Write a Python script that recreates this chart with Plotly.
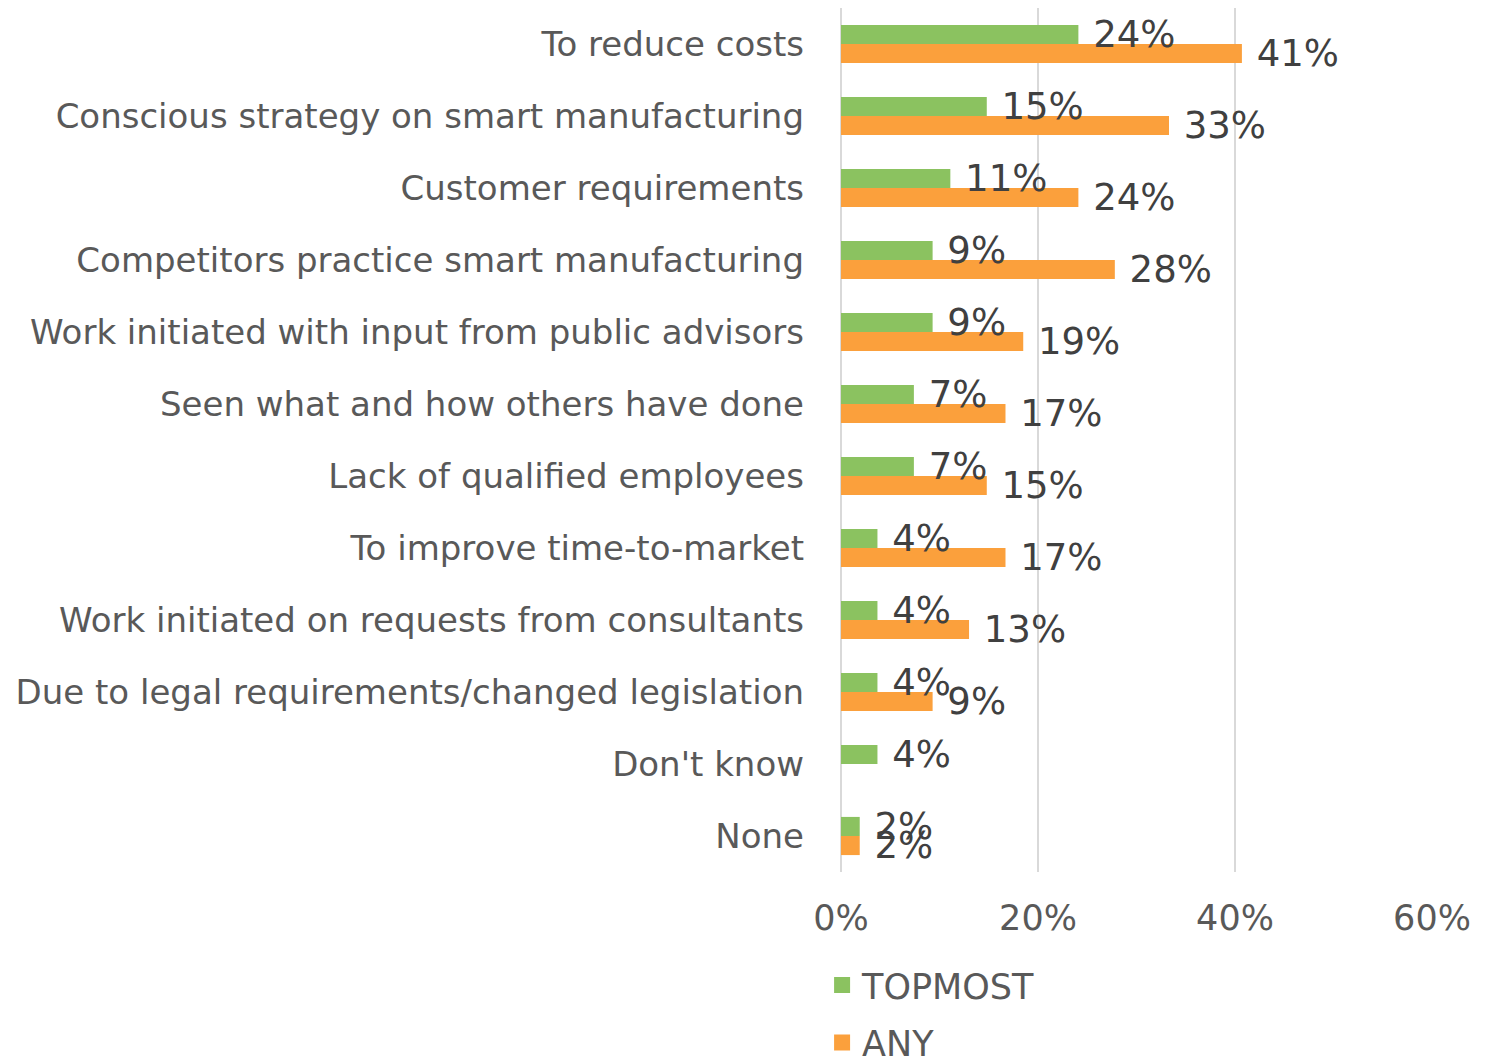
import plotly.graph_objects as go

categories = [
    "To reduce costs",
    "Conscious strategy on smart manufacturing",
    "Customer requirements",
    "Competitors practice smart manufacturing",
    "Work initiated with input from public advisors",
    "Seen what and how others have done",
    "Lack of qualified employees",
    "To improve time-to-market",
    "Work initiated on requests from consultants",
    "Due to legal requirements/changed legislation",
    "Don't know",
    "None",
]
topmost = [24.1, 14.8, 11.1, 9.3, 9.3, 7.4, 7.4, 3.7, 3.7, 3.7, 3.7, 1.9]
any_ = [40.7, 33.3, 24.1, 27.8, 18.5, 16.7, 14.8, 16.7, 13.0, 9.3, None, 1.9]
x_ticks = [0, 20, 40, 60]

FONT = "DejaVu Sans"
TXT = "#404040"
GREY = "#595959"
series = [("TOPMOST", topmost, "#8BC260"), ("ANY", any_, "#FBA03C")]

fig = go.Figure()
# bars first, labels after so no bar hides a label
for name, vals, col in series:
    fig.add_trace(go.Bar(
        y=categories, x=vals, name=name, orientation="h", offsetgroup=name,
        marker=dict(color=col, line=dict(width=0)), showlegend=False,
    ))
for name, vals, col in series:
    fig.add_trace(go.Bar(
        y=categories, x=vals, orientation="h", offsetgroup=name,
        marker=dict(color="rgba(0,0,0,0)", line=dict(width=0)), showlegend=False,
        texttemplate=" %{x:.0f}%", textposition="outside",
        constraintext="none", cliponaxis=False, hoverinfo="skip",
        textfont=dict(size=37, color=TXT, family=FONT),
    ))
for name, vals, col in series:
    fig.add_trace(go.Scatter(
        x=[None], y=[None], name=name, mode="markers", legendgroup=name,
        marker=dict(symbol="square", size=16, color=col),
    ))

# page body has an 8px margin, so the figure is 8px smaller and shifted
fig.update_layout(
    width=1493, height=1052,
    margin=dict(l=833, r=69, t=0, b=188),
    barmode="group", bargap=0.47, bargroupgap=0,
    plot_bgcolor="white", paper_bgcolor="white",
    font=dict(family=FONT, color=TXT),
    legend=dict(orientation="v", x=-0.032, xanchor="left",
                yref="container", y=0.099, yanchor="top",
                font=dict(size=35, color=GREY), traceorder="grouped",
                itemsizing="trace", tracegroupgap=9),
    xaxis=dict(range=[0, 60], tickvals=x_ticks, ticktext=[f"{v}%" for v in x_ticks],
               showgrid=True, gridcolor="#D9D9D9", gridwidth=2,
               zeroline=True, zerolinecolor="#D9D9D9", zerolinewidth=2,
               tickfont=dict(size=35, color=GREY), ticklabelstandoff=22,
               automargin=False),
    yaxis=dict(autorange="reversed", tickfont=dict(size=34, color=GREY),
               ticklabelstandoff=36, showgrid=False, automargin=False),
)

fig.write_html("out.html")
